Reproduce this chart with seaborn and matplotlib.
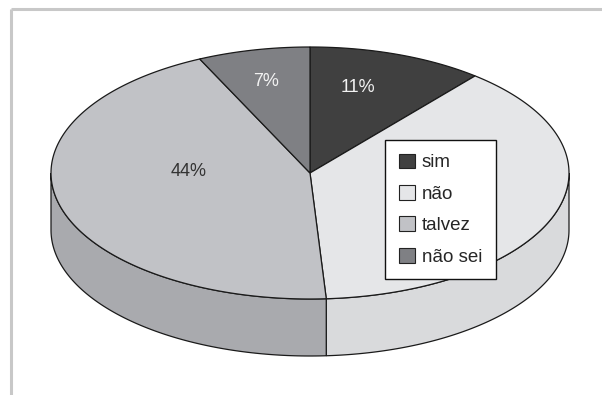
import numpy as np
import matplotlib
matplotlib.use("Agg")
import matplotlib.pyplot as plt
from matplotlib.patches import Polygon, Patch
import seaborn as sns

# Survey answers and their shares (percent)
categories = ["sim", "não", "talvez", "não sei"]
shares = [11, 38, 44, 7]
show_label = [True, False, True, True]

sns.set_theme(style="white")
plt.rcParams["font.family"] = ["Liberation Sans", "DejaVu Sans"]

top_colors = sns.color_palette(["#404040", "#e5e6e8", "#c1c2c6", "#7f8084"])
side_colors = sns.color_palette(["#353535", "#d9dadc", "#a9aaae", "#6e6f73"])
label_colors = ["#f2f2f2", "#333333", "#333333", "#f2f2f2"]

W, H = 602, 395
fig = plt.figure(figsize=(W / 100, H / 100), dpi=100)
ax = fig.add_axes([0, 0, 1, 1])
ax.set_xlim(0, W)
ax.set_ylim(H, 0)
ax.axis("off")

# ellipse geometry of the disc (pixel space)
cx, cy, a, b, depth = 310.0, 173.0, 259.0, 126.0, 57.0


def rim(theta_deg, dy=0.0):
    t = np.radians(theta_deg)
    return np.column_stack([cx + a * np.sin(t), cy - b * np.cos(t) + dy])


fracs = np.array(shares, dtype=float) / np.sum(shares)
edges = np.concatenate([[0.0], np.cumsum(fracs)]) * 360.0

# side walls: only the front half (90..270 deg clockwise from top) is visible
for i in range(len(shares)):
    s, e = max(edges[i], 90.0), min(edges[i + 1], 270.0)
    if e <= s:
        continue
    th = np.linspace(s, e, 120)
    pts = np.vstack([rim(th), rim(th[::-1], depth)])
    ax.add_patch(Polygon(pts, closed=True, facecolor=side_colors[i],
                         edgecolor="#1a1a1a", linewidth=0.9, zorder=1))

# top face wedges
for i in range(len(shares)):
    th = np.linspace(edges[i], edges[i + 1], 200)
    pts = np.vstack([[cx, cy], rim(th)])
    ax.add_patch(Polygon(pts, closed=True, facecolor=top_colors[i],
                         edgecolor="#1a1a1a", linewidth=0.9, zorder=2))

# percentage labels
label_pos = {"sim": (358, 88), "talvez": (189, 172), "não sei": (266, 82)}
for i, cat in enumerate(categories):
    if show_label[i] and cat in label_pos:
        x, y = label_pos[cat]
        ax.text(x, y, f"{shares[i]}%", ha="center", va="center",
                fontsize=13, color=label_colors[i], zorder=5)

# legend
handles = [Patch(facecolor=top_colors[i], edgecolor="#222222", linewidth=0.8)
           for i in range(len(categories))]
leg = ax.legend(handles, categories, loc="upper left",
                bbox_to_anchor=(385 / W, 1 - 140 / H), frameon=True,
                fancybox=False, edgecolor="#111111", framealpha=1,
                fontsize=13.5, handlelength=0.9, handleheight=0.85,
                handletextpad=0.35, labelspacing=0.72, borderpad=0.72,
                borderaxespad=0)
leg.get_frame().set_linewidth(1.0)
leg.set_zorder(10)

# light frame lines along top and left
ax.plot([11, W], [9, 9], color="#c8c8c8", linewidth=2.2, solid_capstyle="butt")
ax.plot([11, 11], [9, H], color="#c8c8c8", linewidth=2.2, solid_capstyle="butt")

fig.savefig("out.png", dpi=100, facecolor="white")
